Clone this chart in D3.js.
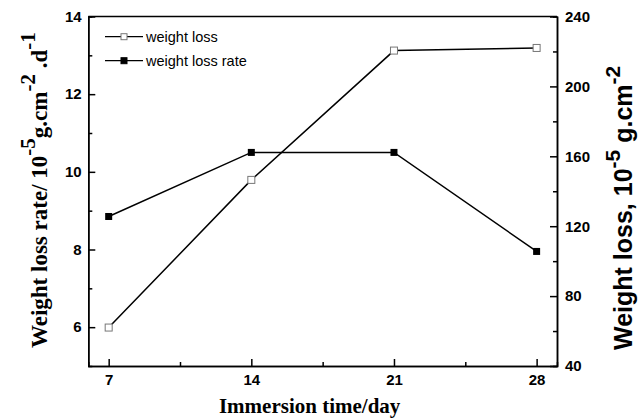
<!DOCTYPE html>
<html>
<head>
<meta charset="utf-8">
<script src="https://cdn.jsdelivr.net/npm/d3@7"></script>
<style>
    body { margin: 0; background: #fff; }
    svg { display: block; }
    .tick text { font-family: "Liberation Sans", Arial, sans-serif; font-weight: bold; font-size: 15px; fill: #000; }
</style>
</head>
<body>
<svg id="chart" width="640" height="418"></svg>
<script>
// values
const days = [7, 14, 21, 28]
const weightLoss = [62, 146.5, 220.5, 222]          // right axis, 10^-5 g.cm^-2
const weightLossRate = [8.85, 10.5, 10.5, 7.95]     // left axis, 10^-5 g.cm^-2.d^-1

const xTicks = [7, 14, 21, 28]
const xMinor = [10.5, 17.5, 24.5]
const leftTicks = [6, 8, 10, 12, 14]
const leftMinor = [7, 9, 11, 13]
const rightTicks = [40, 80, 120, 160, 200, 240]
const rightMinor = [60, 100, 140, 180, 220]

const legendItems = [
    {label: "weight loss", filled: false},
    {label: "weight loss rate", filled: true}
]

const svg = d3.select("#chart")

const plotLeft = 88.3, plotRight = 557, plotTop = 16.5, plotBottom = 366

let x = d3.scaleLinear().domain([6, 29]).range([plotLeft, plotRight])
let yL = d3.scaleLinear().domain([5, 14]).range([plotBottom, plotTop])
let yR = d3.scaleLinear().domain([40, 240]).range([plotBottom, plotTop])

// frame (top line)
svg.append("line")
   .attr("x1", plotLeft).attr("x2", plotRight)
   .attr("y1", plotTop).attr("y2", plotTop)
   .attr("stroke", "#000").attr("stroke-width", 1.5)

function styleAxis(g) {
    g.select(".domain").attr("stroke", "#000").attr("stroke-width", 1.5)
    g.selectAll(".tick line").attr("stroke", "#000").attr("stroke-width", 1.5)
}

// minor ticks first, so major axes sit on top
svg.append("g").attr("transform", `translate(0,${plotBottom})`)
   .call(d3.axisBottom(x).tickValues(xMinor).tickSize(-4).tickFormat(""))
   .call(styleAxis)
svg.append("g").attr("transform", `translate(${plotLeft},0)`)
   .call(d3.axisLeft(yL).tickValues(leftMinor).tickSize(-4).tickFormat(""))
   .call(styleAxis)
svg.append("g").attr("transform", `translate(${plotRight},0)`)
   .call(d3.axisRight(yR).tickValues(rightMinor).tickSize(-4).tickFormat(""))
   .call(styleAxis)

svg.append("g").attr("transform", `translate(0,${plotBottom})`)
   .call(d3.axisBottom(x).tickValues(xTicks).tickSizeInner(-7).tickSizeOuter(0).tickPadding(8))
   .call(styleAxis)
svg.append("g").attr("transform", `translate(${plotLeft},0)`)
   .call(d3.axisLeft(yL).tickValues(leftTicks).tickSizeInner(-7).tickSizeOuter(0).tickPadding(6.6))
   .call(styleAxis)
svg.append("g").attr("transform", `translate(${plotRight},0)`)
   .call(d3.axisRight(yR).tickValues(rightTicks).tickSizeInner(-7).tickSizeOuter(0).tickPadding(8))
   .call(styleAxis)

// series lines
const rateLine = d3.line().x((d, i) => x(days[i])).y(d => yL(d))
const lossLine = d3.line().x((d, i) => x(days[i])).y(d => yR(d))

svg.append("path").datum(weightLossRate)
   .attr("d", rateLine).attr("fill", "none")
   .attr("stroke", "#000").attr("stroke-width", 1.5)
svg.append("path").datum(weightLoss)
   .attr("d", lossLine).attr("fill", "none")
   .attr("stroke", "#000").attr("stroke-width", 1.5)

const S = 7
svg.append("g").selectAll("rect")
   .data(weightLossRate).join("rect")
   .attr("x", (d, i) => x(days[i]) - S / 2)
   .attr("y", d => yL(d) - S / 2)
   .attr("width", S).attr("height", S)
   .attr("fill", "#000")
svg.append("g").selectAll("rect")
   .data(weightLoss).join("rect")
   .attr("x", (d, i) => x(days[i]) - S / 2)
   .attr("y", d => yR(d) - S / 2)
   .attr("width", S).attr("height", S)
   .attr("fill", "#fff").attr("stroke", "#777").attr("stroke-width", 1)

// legend
const legend = svg.append("g")
legendItems.forEach(function (item, i) {
    let yy = 36.7 + i * 24
    legend.append("line")
          .attr("x1", 105).attr("x2", 143)
          .attr("y1", yy).attr("y2", yy)
          .attr("stroke", "#000").attr("stroke-width", 1.3)
    legend.append("rect")
          .attr("x", 124 - 3).attr("y", yy - 3)
          .attr("width", 6).attr("height", 6)
          .attr("fill", item.filled ? "#000" : "#fff")
          .attr("stroke", item.filled ? "#000" : "#777").attr("stroke-width", 1)
    legend.append("text")
          .attr("x", 146).attr("y", yy + 5)
          .style("font-family", "'Liberation Sans', Arial, sans-serif")
          .style("font-size", "14.5px")
          .text(item.label)
})

// axis titles
svg.append("text")
   .attr("x", (plotLeft + plotRight) / 2 - 13).attr("y", 413)
   .attr("text-anchor", "middle")
   .style("font-family", "'Liberation Serif', 'Times New Roman', serif")
   .style("font-weight", "bold").style("font-size", "21px")
   .text("Immersion time/day")

const lt = svg.append("text")
   .attr("transform", "translate(47,348) rotate(-90)")
   .style("font-family", "'Liberation Serif', 'Times New Roman', serif")
   .style("font-weight", "bold").style("font-size", "23px")
lt.append("tspan").text("Weight loss rate/ 10")
lt.append("tspan").attr("dy", -12).style("font-size", "21px").text("-5")
lt.append("tspan").attr("dy", 12).text("g.cm")
lt.append("tspan").attr("dy", -12).style("font-size", "21px").text("-2")
lt.append("tspan").attr("dy", 12).text(" .d")
lt.append("tspan").attr("dy", -12).style("font-size", "21px").text("-1")

const rt = svg.append("text")
   .attr("transform", "translate(632,350) rotate(-90)")
   .style("font-family", "'Liberation Sans', Arial, sans-serif")
   .style("font-weight", "bold").style("font-size", "25px")
rt.append("tspan").text("Weight loss, 10")
rt.append("tspan").attr("dy", -12).style("font-size", "21px").text("-5")
rt.append("tspan").attr("dy", 12).text(" g.cm")
rt.append("tspan").attr("dy", -12).style("font-size", "21px").text("-2")
</script>
</body>
</html>
